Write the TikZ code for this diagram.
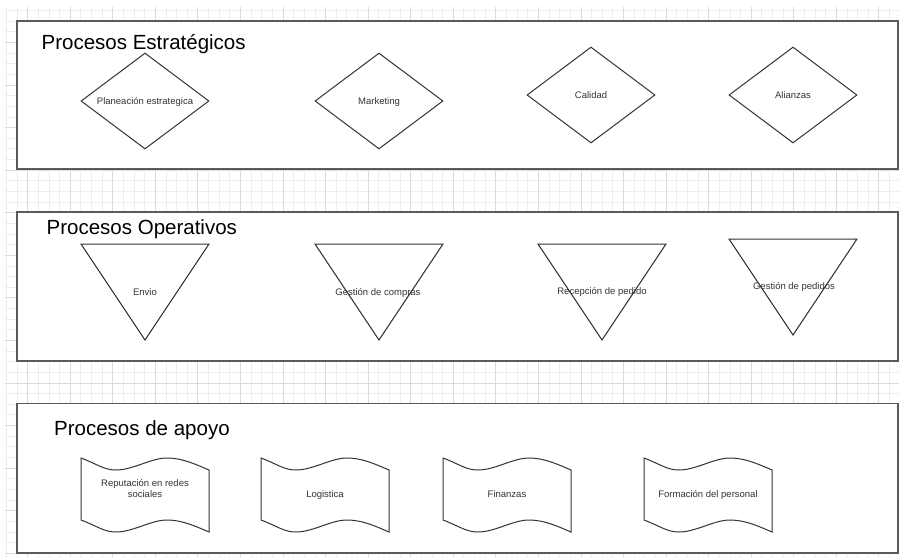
\documentclass[tikz,border=0pt]{standalone}
\usepackage{fontspec}
\setmainfont{Liberation Sans}
\usetikzlibrary{shapes.geometric}

\definecolor{ink}{HTML}{333333}
\definecolor{framegray}{HTML}{5A5A5A}
\definecolor{gridminor}{HTML}{EDEDED}
\definecolor{gridmajor}{HTML}{DADADA}

\tikzset{
  minorline/.style={draw=gridminor, line width=0.9pt},
  majorline/.style={draw=gridmajor, line width=0.9pt},
  panel/.style={draw=framegray, fill=white, line width=1.6pt},
  shapeline/.style={draw=ink, line width=1.0pt, line join=miter},
  heading/.style={inner sep=0pt, anchor=base west, text=black,
    font=\fontsize{20.5}{24}\selectfont},
  label/.style={inner sep=0pt, text=ink, text height=6.8pt, text depth=0pt,
    font=\fontsize{9.5}{11}\selectfont, align=center},
  decision/.style={diamond, shapeline, label, aspect=1.3333,
    minimum width=128pt, minimum height=96pt},
  tapeshape/.pic={
    \path[shapeline] (-64,-37)
      .. controls (-48,-31) and (-41,-25) .. (-29,-25)
      .. controls (-12,-25) and (6,-37) .. (22,-37)
      .. controls (37,-37) and (50,-31) .. (64,-25)
      -- (64,37)
      .. controls (50,31) and (37,25) .. (22,25)
      .. controls (6,25) and (-12,37) .. (-29,37)
      .. controls (-41,37) and (-48,31) .. (-64,25)
      -- cycle;
  }
}

\begin{document}
\begin{tikzpicture}[x=1pt, y=-1pt]
\useasboundingbox (0,0) rectangle (899,557);

% background grid
\begin{scope}
  \clip (5,7) rectangle (899,557);
  \foreach \k in {-2,...,81}
    \path[minorline] ({27.7+10.64*\k},7) -- ({27.7+10.64*\k},557);
  \foreach \k in {-16,...,35}
    \path[minorline] (5,{383-10.64*\k}) -- (899,{383-10.64*\k});
  \foreach \k in {0,...,20}
    \path[majorline] ({27.7+42.56*\k},7) -- ({27.7+42.56*\k},557);
  \foreach \k in {-4,...,8}
    \path[majorline] (5,{383-42.56*\k}) -- (899,{383-42.56*\k});
\end{scope}

% swimlane panels
\path[panel] (17,21) rectangle (898,169);
\path[panel] (17,212) rectangle (898,361);
\path[panel] (17,403.5) rectangle (898,553);

% headings
\node[heading] (h1) at (41.5,49) {Procesos Estratégicos};
\node[heading] (h2) at (46.5,234) {Procesos Operativos};
\node[heading] (h3) at (54,435) {Procesos de apoyo};

% strategic processes
\node[decision] (d1) at (145,101) {Planeación estrategica};
\node[decision] (d2) at (379,101) {Marketing};
\node[decision] (d3) at (591,95) {Calidad};
\node[decision] (d4) at (793,95) {Alianzas};

% operative processes
\path[shapeline] (81,244) -- (209,244) -- (145,340) -- cycle;
\path[shapeline] (315,244) -- (443,244) -- (379,340) -- cycle;
\path[shapeline] (538,244) -- (666,244) -- (602,340) -- cycle;
\path[shapeline] (729,239) -- (857,239) -- (793,335) -- cycle;
\node[label] (o1) at (145,292) {Envio};
\node[label] (o2) at (378,292) {Gestión de compras};
\node[label] (o3) at (602,291) {Recepción de pedido};
\node[label] (o4) at (794,286) {Gestión de pedidos};

% support processes
\pic at (145,495) {tapeshape};
\pic at (325,495) {tapeshape};
\pic at (507,495) {tapeshape};
\pic at (708,495) {tapeshape};
\node[label] (s1) at (145,494) {Reputación en redes\\sociales};
\node[label] (s2) at (325,494) {Logistica};
\node[label] (s3) at (507,494) {Finanzas};
\node[label] (s4) at (708,494) {Formación del personal};
\end{tikzpicture}
\end{document}
